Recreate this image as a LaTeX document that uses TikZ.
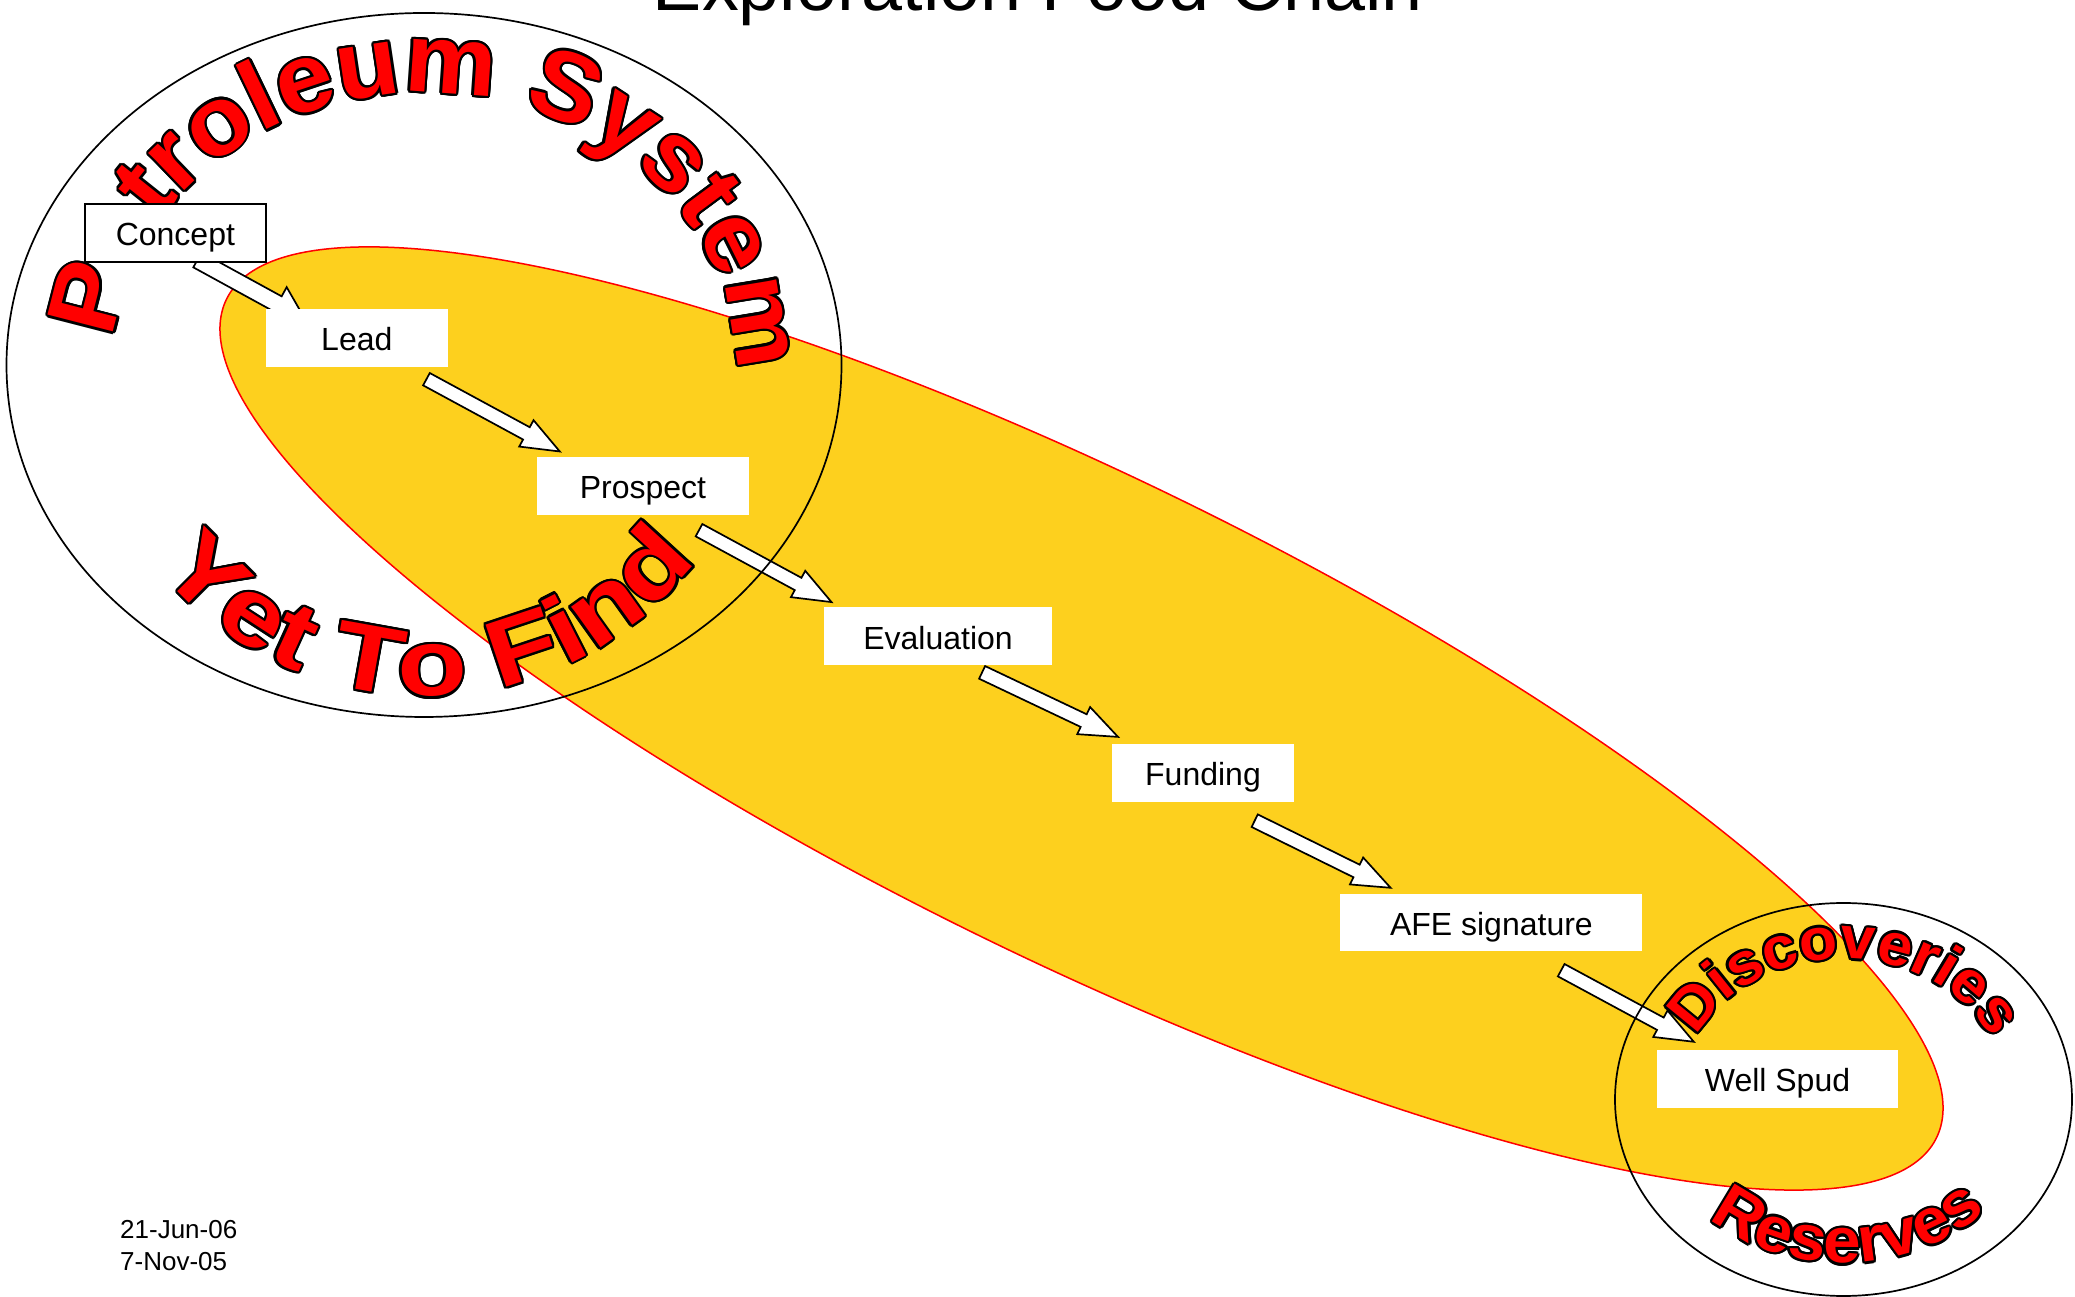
\documentclass[tikz,border=0pt]{standalone}
\usepackage{fontspec}
\setmainfont{Liberation Sans}
\newfontfamily\waA[FakeStretch=1.05]{Liberation Sans}
\newfontfamily\waB[FakeStretch=1.2]{Liberation Sans}
\usetikzlibrary{calc,decorations.text,shapes.geometric}
\definecolor{gold}{RGB}{253,208,30}
\definecolor{wred}{RGB}{255,0,0}
\pgfdeclarelayer{bg}
\pgfdeclarelayer{arr}
\pgfdeclarelayer{fg}
\pgfsetlayers{bg,arr,main,fg}
\newcommand\wafont[2]{#1\fontsize{#2}{#2}\selectfont\bfseries}
% #1 centre, #2 start angle, #3 end angle, #4 x radius, #5 y radius, #6 text
\newcommand\wordart[6]{%
  \foreach \ang in {0,22.5,...,337.5}{%
    \path[decorate,decoration={text along path,text align=center,text color=black,text={#6}}]
      ($(#1)+(\ang:2.3pt)+(#2:#4 and #5)$) arc[start angle=#2,end angle=#3,x radius=#4,y radius=#5];
  }%
  \path[decorate,decoration={text along path,text align=center,text color=wred,text={#6}}]
    ($(#1)+(#2:#4 and #5)$) arc[start angle=#2,end angle=#3,x radius=#4,y radius=#5];
}
% #1 tail, #2 tip, #3 half shaft width, #4 half head width, #5 head length
\newcommand\blockarrow[5]{%
  \coordinate (#1h) at ($(#2)!#5!(#1)$);
  \draw[barrow] ($(#1)!#3!90:(#2)$) -- ($(#1h)!#3!90:(#2)$) -- ($(#1h)!#4!90:(#2)$) -- (#2) -- ($(#1h)!#4!-90:(#2)$) -- ($(#1h)!#3!-90:(#2)$) -- ($(#1)!#3!-90:(#2)$) -- cycle;
}
\begin{document}
\begin{tikzpicture}[x=1pt,y=1pt,
  stage/.style={rectangle,fill=white,inner sep=0pt,minimum height=58pt,text height=30pt,text depth=4pt,font=\fontsize{32}{38}\selectfont},
  barrow/.style={fill=white,draw=black,line width=1.7pt,line join=miter},
  ring/.style={ellipse,draw=black,line width=1.7pt,inner sep=0pt}]
\useasboundingbox (0,0) rectangle (2075,1296);
\clip (0,0) rectangle (2075,1296);

\begin{pgfonlayer}{fg}
\node[ring,minimum width=835pt,minimum height=704pt] (ps) at (424,931) {};
\node[ring,minimum width=457pt,minimum height=393pt] (dr) at (1843.5,196.5) {};
\end{pgfonlayer}

\begin{pgfonlayer}{bg}
\node[ellipse,fill=gold,draw=wred,line width=1.5pt,inner sep=0pt,minimum width=1904.6pt,minimum height=480pt,rotate=-26.13] (ytf) at (1081.5,577.5) {};
\wordart{ps.center}{201.65}{-28.35}{311pt}{272pt}{|\wafont{\waA}{98}|Petroleum System}
\wordart{ps.center}{-204}{26}{337pt}{331pt}{|\wafont{\waB}{95}|Yet To Find}
\wordart{dr.center}{199.5}{-20.5}{164pt}{141pt}{|\wafont{\waA}{59.5}|Discoveries}
\wordart{dr.center}{-198}{22}{195pt}{163.5pt}{|\wafont{\waA}{64}|Reserves}
\end{pgfonlayer}

\node[stage,draw=black,line width=1.7pt,minimum width=181pt] (concept) at (175.4,1063) {Concept};
\node[stage,minimum width=181.7pt] (lead) at (356.8,958.2) {Lead};
\node[stage,minimum width=212pt] (prospect) at (643,810.3) {Prospect};
\node[stage,minimum width=228pt] (evaluation) at (938,659.5) {Evaluation};
\node[stage,minimum width=182.6pt] (funding) at (1203,523) {Funding};
\node[stage,minimum width=302pt,minimum height=57pt] (afe) at (1491.4,373) {AFE signature};
\node[stage,minimum width=241pt] (well) at (1777.5,217) {Well Spud};

\coordinate (a1) at ($(concept.south east)+(-69.35,2.95)$);
\coordinate (b1) at ($(lead.north west)+(39,-10.1)$);
\coordinate (a2) at ($(lead.south east)+(-21.4,-12.2)$);
\coordinate (b2) at ($(prospect.north west)+(23,5)$);
\coordinate (a3) at ($(prospect.south east)+(-50.2,-15.3)$);
\coordinate (b3) at ($(evaluation.north west)+(7.7,5.2)$);
\coordinate (a4) at ($(evaluation.south east)+(-70.1,-6.7)$);
\coordinate (b4) at ($(funding.north west)+(6.5,6.9)$);
\coordinate (a5) at ($(funding.south east)+(-39.8,-18.5)$);
\coordinate (b5) at ($(afe.north west)+(50.4,6.5)$);
\coordinate (a6) at ($(afe.south east)+(-81.4,-18.5)$);
\coordinate (b6) at ($(well.north west)+(37,8)$);

\begin{pgfonlayer}{arr}
\blockarrow{a1}{b1}{8.5pt}{19pt}{31pt}
\blockarrow{a2}{b2}{7pt}{15pt}{38pt}
\blockarrow{a3}{b3}{7pt}{15pt}{38pt}
\blockarrow{a4}{b4}{7pt}{15pt}{38pt}
\blockarrow{a5}{b5}{7pt}{15pt}{38pt}
\blockarrow{a6}{b6}{7pt}{15pt}{38pt}
\end{pgfonlayer}

\node[anchor=base,inner sep=0pt,font=\fontsize{73.7}{80}\selectfont] (title) at (1038,1285.5) {Exploration Food Chain};
\node[anchor=base west,inner sep=0pt,font=\fontsize{26}{31}\selectfont] (date1) at (120,57) {21-Jun-06};
\node[anchor=base west,inner sep=0pt,font=\fontsize{26}{31}\selectfont] (date2) at (120,26) {7-Nov-05};
\end{tikzpicture}
\end{document}
